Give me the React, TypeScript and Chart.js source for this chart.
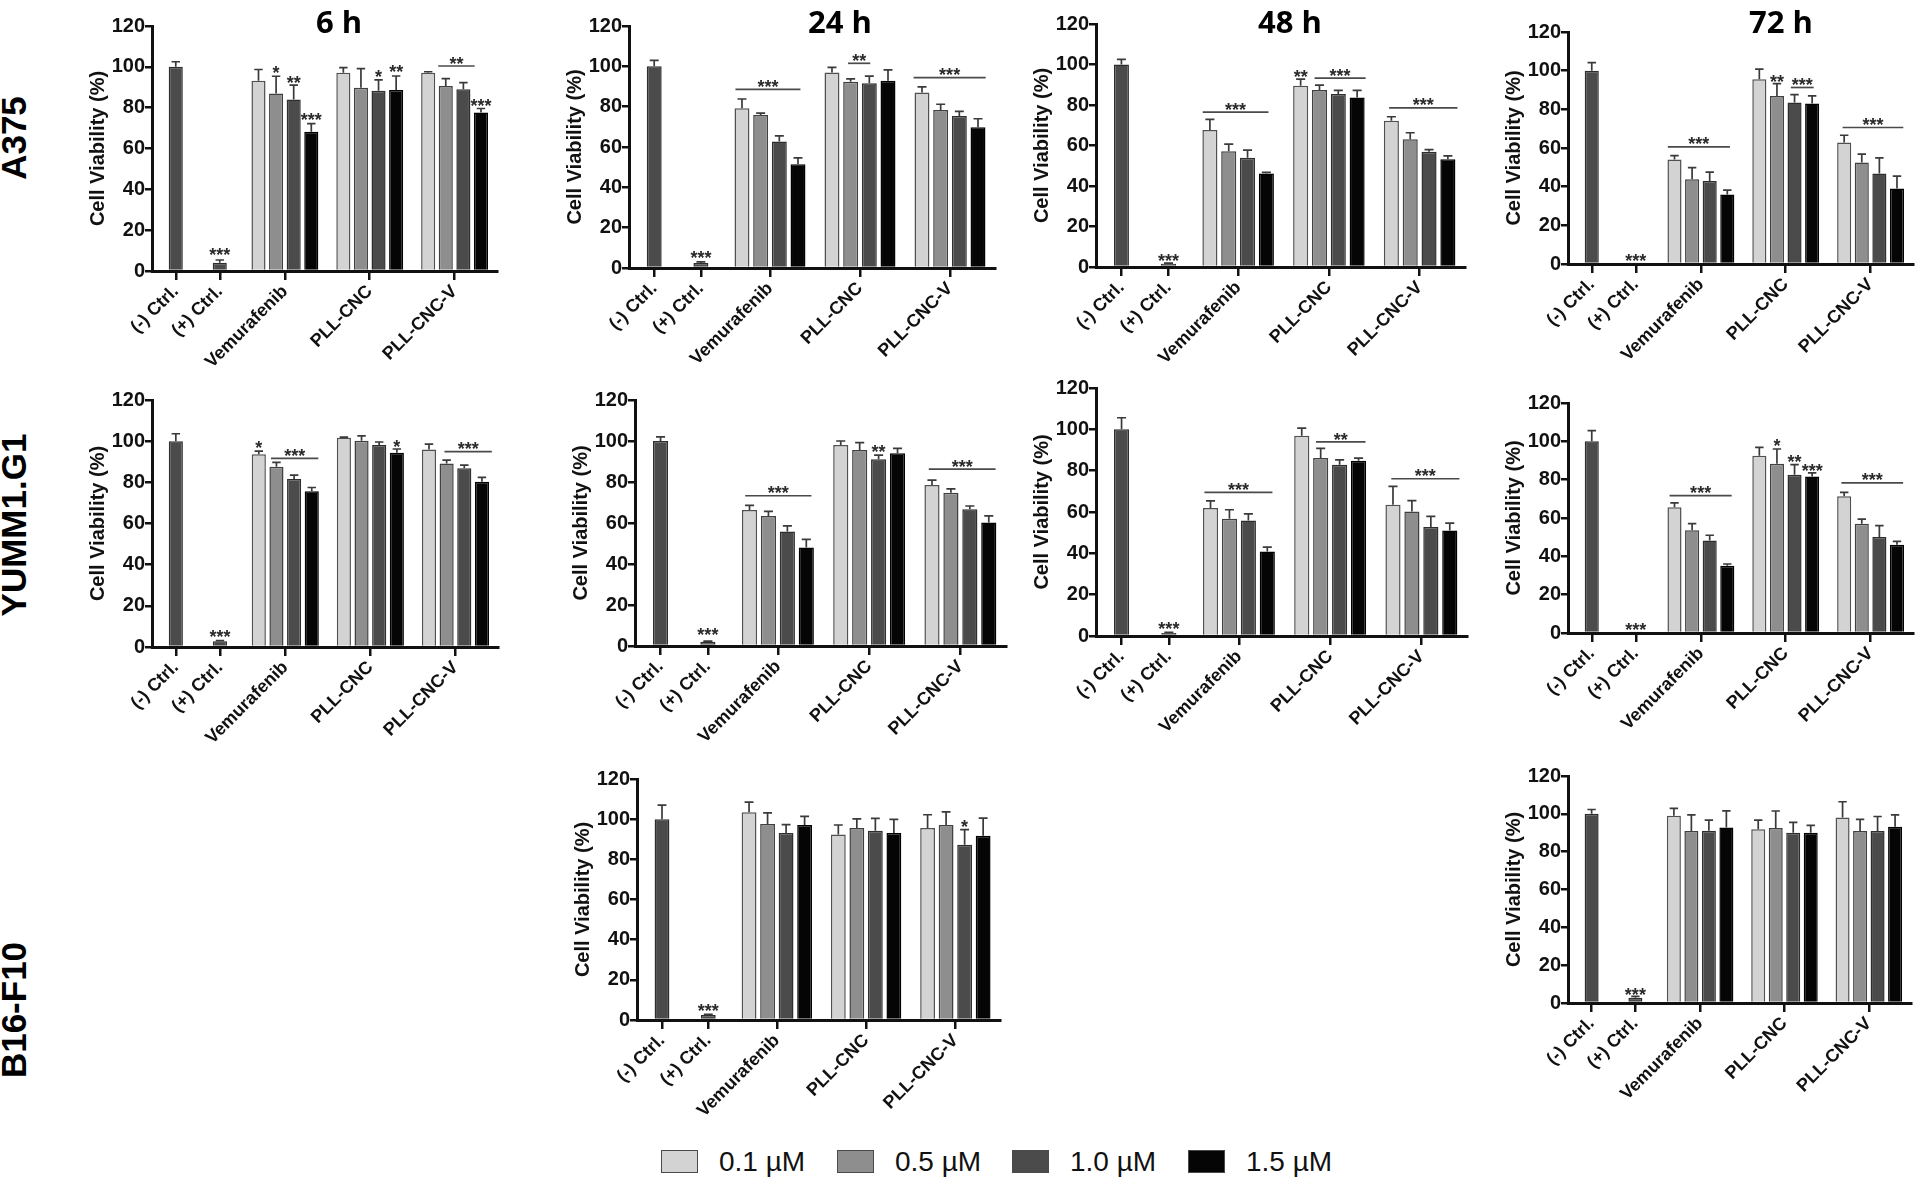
import React, { useEffect, useRef } from "react";
import { Chart, registerables } from "chart.js";

Chart.register(...registerables);
Chart.defaults.font.family = "'Liberation Sans', Arial, Helvetica, sans-serif";
Chart.defaults.color = "#111";

// ---------- shared labels ----------
const categories = ["(-) Ctrl.", "(+) Ctrl.", "Vemurafenib", "PLL-CNC", "PLL-CNC-V"];
// positions of the categories along the (linear) x axis, in bar-slot units
const categoryCenters = [1.35, 3.85, 7.55, 12.37, 17.19];
const xMax = 19.6;
const concentrations = ["0.1 µM", "0.5 µM", "1.0 µM", "1.5 µM"];
const timepoints = ["6 h", "24 h", "48 h", "72 h"];
const cellLines = ["A375", "YUMM1.G1", "B16-F10"];
const yTitle = "Cell Viability (%)";

// bar order: (-)Ctrl, (+)Ctrl, Vemurafenib x4, PLL-CNC x4, PLL-CNC-V x4 (0.1, 0.5, 1.0, 1.5 µM)
type Mark = [number, number, string]; // bar index, value at bottom of stars, text
type Bracket = [number, number, number, string]; // x from, x to, value, text

// ---------- A375 ----------
const a375_6h = [100, 4.1, 93.2, 86.9, 84.0, 68.2, 97.1, 89.8, 88.3, 88.7, 97.1, 90.6, 89.0, 77.6];
const a375_6h_sd = [2.5, 1.3, 5.5, 8.5, 7.0, 4.0, 2.5, 9.3, 5.3, 6.8, 0.5, 3.6, 3.3, 2.0];
const a375_6h_marks: Mark[] = [[1, 8.6, "***"], [3, 97.6, "*"], [4, 92.7, "**"], [5, 74.8, "***"], [8, 96, "*"], [9, 98, "**"], [13, 81.8, "***"]];
const a375_6h_brackets: Bracket[] = [[16.26, 18.33, 100.4, "**"]];

const a375_24h = [100, 2.5, 79.2, 75.9, 62.7, 51.5, 96.9, 92.3, 91.6, 92.9, 87.0, 78.4, 75.4, 69.8];
const a375_24h_sd = [3.0, 0.5, 4.6, 0.9, 2.8, 3.1, 2.6, 1.5, 3.5, 5.3, 2.8, 2.8, 2.3, 4.2];
const a375_24h_marks: Mark[] = [[1, 5.8, "***"]];
const a375_24h_brackets: Bracket[] = [[5.7, 9.18, 88.6, "***"], [11.73, 12.92, 101.5, "**"], [15.24, 19.1, 94.4, "***"]];

const a375_48h = [100, 1.6, 67.6, 57.2, 53.9, 46.2, 89.5, 87.4, 85.4, 83.7, 72.2, 63.1, 56.9, 53.2];
const a375_48h_sd = [2.5, 0.3, 5.3, 3.5, 3.8, 0.5, 3.3, 2.4, 1.8, 3.5, 2.0, 3.2, 1.1, 1.7];
const a375_48h_marks: Mark[] = [[1, 3.8, "***"], [6, 94.8, "**"]];
const a375_48h_brackets: Bracket[] = [[5.67, 9.16, 76.5, "***"], [11.61, 14.32, 93.3, "***"], [15.57, 19.2, 78.6, "***"]];

const a375_72h = [100, 0.3, 54.1, 43.9, 42.9, 36.0, 95.6, 86.9, 83.5, 83.0, 62.8, 52.5, 46.8, 39.1];
const a375_72h_sd = [4.2, 0, 2.0, 6.0, 4.6, 2.2, 5.2, 6.4, 4.1, 4.0, 3.8, 4.3, 8.1, 6.4];
const a375_72h_marks: Mark[] = [[1, 2.4, "***"], [7, 94.7, "**"]];
const a375_72h_brackets: Bracket[] = [[5.67, 9.2, 60.6, "***"], [12.66, 13.96, 91.3, "***"], [15.6, 19.05, 70.6, "***"]];

// ---------- YUMM1.G1 ----------
const yumm_6h = [100, 2.8, 93.6, 87.6, 81.6, 75.7, 101.7, 100.2, 98.1, 94.4, 96.0, 89.2, 86.8, 80.3];
const yumm_6h_sd = [3.6, 0.3, 1.6, 2.1, 1.9, 1.8, 0.3, 2.4, 1.5, 1.8, 2.6, 1.6, 1.6, 2.1];
const yumm_6h_marks: Mark[] = [[1, 5.4, "***"], [2, 97.6, "*"], [9, 98.1, "*"]];
const yumm_6h_brackets: Bracket[] = [[6.74, 9.42, 91.6, "***"], [16.57, 19.25, 94.9, "***"]];

const yumm_24h = [100, 2.1, 66.3, 63.4, 55.8, 48.0, 98.0, 95.6, 91.1, 94.0, 78.5, 74.8, 66.7, 60.2];
const yumm_24h_sd = [2.0, 0.3, 2.3, 2.3, 2.8, 4.0, 2.0, 3.6, 2.0, 2.4, 2.4, 1.8, 1.6, 3.3];
const yumm_24h_marks: Mark[] = [[1, 6.2, "***"], [8, 95.6, "**"]];
const yumm_24h_brackets: Bracket[] = [[5.82, 9.32, 73.3, "***"], [15.52, 19.05, 86.3, "***"]];

const yumm_48h = [100, 1.5, 61.9, 56.7, 55.9, 40.9, 96.9, 86.1, 82.9, 84.8, 63.5, 60.3, 52.7, 51.0];
const yumm_48h_sd = [5.6, 0.3, 3.5, 4.4, 3.2, 2.1, 3.7, 4.7, 2.3, 1.3, 8.9, 5.2, 5.2, 3.6];
const yumm_48h_marks: Mark[] = [[1, 4.2, "***"]];
const yumm_48h_brackets: Bracket[] = [[5.73, 9.32, 69.5, "***"], [11.62, 14.24, 93.9, "**"], [15.6, 19.2, 76.1, "***"]];

const yumm_72h = [100, 0.5, 65.6, 53.6, 48.2, 35.1, 92.5, 88.3, 82.6, 81.7, 71.3, 57.0, 50.1, 46.1];
const yumm_72h_sd = [5.6, 0, 2.3, 3.5, 2.8, 0.9, 4.3, 7.7, 5.2, 1.8, 2.1, 2.4, 5.9, 1.7];
const yumm_72h_marks: Mark[] = [[1, 2.6, "***"], [7, 98.3, "*"], [8, 90.1, "**"], [9, 85.2, "***"]];
const yumm_72h_brackets: Bracket[] = [[5.77, 9.3, 71.7, "***"], [15.53, 19.04, 78.3, "***"]];

// ---------- B16-F10 ----------
const b16_24h = [100, 2.5, 103.5, 97.6, 93.1, 97.1, 92.4, 95.6, 94.2, 93.1, 95.6, 97.1, 87.3, 91.7];
const b16_24h_sd = [7.0, 0.3, 5.0, 5.5, 4.2, 4.3, 4.7, 4.5, 6.2, 6.8, 6.6, 6.5, 7.5, 8.8];
const b16_24h_marks: Mark[] = [[1, 5.5, "***"], [12, 96.7, "*"]];
const b16_24h_brackets: Bracket[] = [];

const b16_72h = [100, 2.8, 99.0, 90.9, 91.1, 92.8, 91.8, 92.5, 90.0, 90.0, 98.1, 90.9, 90.9, 93.2];
const b16_72h_sd = [2.3, 0.7, 3.9, 8.5, 5.6, 8.8, 4.9, 9.0, 5.5, 3.9, 8.3, 6.2, 7.7, 6.3];
const b16_72h_marks: Mark[] = [[1, 5.3, "***"]];
const b16_72h_brackets: Bracket[] = [];

// ---------- styles ----------
const FILL = ["#d3d3d3", "#8e8e8e", "#4b4b4b", "#050505"];
const EDGE = ["#505050", "#404040", "#2e2e2e", "#000000"];
const CTRL_FILL = "#4b4b4b";
const CTRL_EDGE = "#2e2e2e";
const FONT = "'Liberation Sans', Arial, Helvetica, sans-serif";

// layout constants (px)
const PAD_L = 4, YW = 66, PAD_T = 30, XH = 110, PAD_R = 6;

type PanelSpec = {
  means: number[]; sd: number[]; marks: Mark[]; brackets: Bracket[];
  L: number; T: number; B: number; R: number;
};

const panels: PanelSpec[] = [
  { means: a375_6h, sd: a375_6h_sd, marks: a375_6h_marks, brackets: a375_6h_brackets, L: 152, T: 26, B: 271, R: 497 },
  { means: a375_24h, sd: a375_24h_sd, marks: a375_24h_marks, brackets: a375_24h_brackets, L: 629, T: 26, B: 268, R: 995 },
  { means: a375_48h, sd: a375_48h_sd, marks: a375_48h_marks, brackets: a375_48h_brackets, L: 1096, T: 24, B: 267, R: 1465 },
  { means: a375_72h, sd: a375_72h_sd, marks: a375_72h_marks, brackets: a375_72h_brackets, L: 1568, T: 32, B: 264, R: 1913 },
  { means: yumm_6h, sd: yumm_6h_sd, marks: yumm_6h_marks, brackets: yumm_6h_brackets, L: 152, T: 400, B: 647, R: 498 },
  { means: yumm_24h, sd: yumm_24h_sd, marks: yumm_24h_marks, brackets: yumm_24h_brackets, L: 635, T: 400, B: 646, R: 1006 },
  { means: yumm_48h, sd: yumm_48h_sd, marks: yumm_48h_marks, brackets: yumm_48h_brackets, L: 1096, T: 388, B: 636, R: 1467 },
  { means: yumm_72h, sd: yumm_72h_sd, marks: yumm_72h_marks, brackets: yumm_72h_brackets, L: 1568, T: 403, B: 633, R: 1913 },
  { means: b16_24h, sd: b16_24h_sd, marks: b16_24h_marks, brackets: b16_24h_brackets, L: 637, T: 779, B: 1020, R: 1000 },
  { means: b16_72h, sd: b16_72h_sd, marks: b16_72h_marks, brackets: b16_72h_brackets, L: 1568, T: 776, B: 1003, R: 1911 },
];

function barPositions(): number[] {
  const xs = [categoryCenters[0], categoryCenters[1]];
  for (let g = 2; g < 5; g++) for (let k = 0; k < 4; k++) xs.push(categoryCenters[g] + k - 1.5);
  return xs;
}

function Panel({ means, sd, marks, brackets, L, T, B, R }: PanelSpec) {
  const ref = useRef<HTMLCanvasElement>(null);
  const left = L - YW - PAD_L;
  const top = T - PAD_T;
  const width = R - left + PAD_R;
  const height = B - top + XH;

  useEffect(() => {
    const xs = barPositions();
    const common = { borderWidth: 1.5, grouped: false, barPercentage: 0.8, categoryPercentage: 1 };
    const ctrl: any = {
      label: "Control",
      data: [0, 1].map((i) => ({ x: xs[i], y: means[i] })),
      errors: [sd[0], sd[1]],
      backgroundColor: CTRL_FILL,
      borderColor: CTRL_EDGE,
      ...common,
    };
    const conc: any[] = concentrations.map((label, k) => {
      const idx = [2, 3, 4].map((g) => 2 + (g - 2) * 4 + k);
      return {
        label,
        data: idx.map((i) => ({ x: xs[i], y: means[i] })),
        errors: idx.map((i) => sd[i]),
        backgroundColor: FILL[k],
        borderColor: EDGE[k],
        ...common,
      };
    });

    const errPlugin = {
      id: "errbars",
      afterDatasetsDraw(chart: any) {
        const ctx = chart.ctx;
        const y = chart.scales.y;
        chart.data.datasets.forEach((ds: any, di: number) => {
          const meta = chart.getDatasetMeta(di);
          meta.data.forEach((bar: any, i: number) => {
            const err = ds.errors ? ds.errors[i] : 0;
            if (!err || err <= 0) return;
            const v = ds.data[i].y;
            const topPx = y.getPixelForValue(v + err);
            const half = bar.width * 0.3;
            ctx.save();
            ctx.strokeStyle = "#3a3a3a";
            ctx.lineWidth = 1.7;
            ctx.beginPath();
            ctx.moveTo(bar.x, bar.y);
            ctx.lineTo(bar.x, topPx);
            ctx.moveTo(bar.x - half, topPx);
            ctx.lineTo(bar.x + half, topPx);
            ctx.stroke();
            ctx.restore();
          });
        });
      },
    };

    const sigPlugin = {
      id: "sig",
      afterDatasetsDraw(chart: any) {
        const { ctx } = chart;
        const x = chart.scales.x;
        const y = chart.scales.y;
        const fs = 18;
        ctx.save();
        ctx.fillStyle = "#2a2a2a";
        ctx.strokeStyle = "#4a4a4a";
        ctx.lineWidth = 1.7;
        ctx.font = `bold ${fs}px ${FONT}`;
        ctx.textAlign = "center";
        ctx.textBaseline = "alphabetic";
        const stars = (cx: number, bottom: number, t: string) => ctx.fillText(t, cx, bottom + 0.42 * fs);
        marks.forEach(([i, v, t]) => stars(x.getPixelForValue(xs[i]), y.getPixelForValue(v), t));
        brackets.forEach(([x1, x2, v, t]) => {
          const py = y.getPixelForValue(v);
          const p1 = x.getPixelForValue(x1);
          const p2 = x.getPixelForValue(x2);
          ctx.beginPath();
          ctx.moveTo(p1, py);
          ctx.lineTo(p2, py);
          ctx.stroke();
          stars((p1 + p2) / 2, py - 4, t);
        });
        ctx.restore();
      },
    };

    const chart = new Chart(ref.current as HTMLCanvasElement, {
      type: "bar",
      data: { datasets: [ctrl, ...conc] },
      options: {
        animation: false,
        responsive: false,
        devicePixelRatio: 1,
        layout: { padding: { left: PAD_L, top: PAD_T, right: PAD_R, bottom: 0 } },
        plugins: { legend: { display: false }, tooltip: { enabled: false } },
        scales: {
          x: {
            type: "linear",
            min: 0,
            max: xMax,
            offset: false,
            z: 1,
            afterBuildTicks: (s: any) => {
              s.ticks = categoryCenters.map((v) => ({ value: v }));
            },
            afterFit: (s: any) => {
              s.height = XH;
            },
            ticks: {
              autoSkip: false,
              minRotation: 45,
              maxRotation: 45,
              padding: 1,
              color: "#111",
              font: { size: 18, weight: "bold", family: FONT },
              callback: (_v: any, i: number) => categories[i],
            },
            grid: {
              display: true,
              drawOnChartArea: false,
              drawTicks: true,
              tickLength: 9,
              color: "#111",
              lineWidth: 2.5,
              offset: false,
            },
            border: { display: true, color: "#111", width: 3 },
          },
          y: {
            min: 0,
            max: 120,
            z: 1,
            afterFit: (s: any) => {
              s.width = YW;
            },
            ticks: {
              stepSize: 20,
              padding: 0,
              color: "#111",
              font: { size: 20, weight: "bold", family: FONT },
            },
            grid: {
              display: true,
              drawOnChartArea: false,
              drawTicks: true,
              tickLength: 7,
              color: "#111",
              lineWidth: 2.5,
            },
            border: { display: true, color: "#111", width: 3 },
            title: {
              display: true,
              text: yTitle,
              color: "#111",
              padding: 0,
              font: { size: 20, weight: "bold", family: FONT },
            },
          },
        },
      } as any,
      plugins: [errPlugin, sigPlugin],
    });
    return () => chart.destroy();
  }, []);

  return (
    <canvas
      ref={ref}
      width={width}
      height={height}
      style={{ position: "absolute", left, top, width, height }}
    />
  );
}

// figure-level layout
const titleCenters = [339, 840, 1290, 1781];
const rowLabelCenters = [138, 525, 1010];
const legendLeft = 661;
const legendStep = 175.5;

export default function App() {
  return (
    <div
      style={{
        position: "absolute",
        left: 0,
        top: 0,
        width: 1920,
        height: 1184,
        background: "#fff",
        overflow: "hidden",
        fontFamily: FONT,
      }}
    >
      {panels.map((p, i) => (
        <Panel key={i} {...p} />
      ))}

      {timepoints.map((t, i) => (
        <div
          key={t}
          style={{
            position: "absolute",
            left: titleCenters[i],
            top: 21,
            transform: "translate(-50%, -50%)",
            font: "bold 31px 'Open Sans', 'Liberation Sans', sans-serif",
            lineHeight: 1,
            whiteSpace: "nowrap",
            color: "#000",
          }}
        >
          {t}
        </div>
      ))}

      {cellLines.map((c, i) => (
        <div
          key={c}
          style={{
            position: "absolute",
            left: 13,
            top: rowLabelCenters[i],
            transform: "translate(-50%, -50%) rotate(-90deg)",
            font: `bold 35px ${FONT}`,
            lineHeight: 1,
            whiteSpace: "nowrap",
            color: "#000",
          }}
        >
          {c}
        </div>
      ))}

      {concentrations.map((c, k) => (
        <React.Fragment key={c}>
          <div
            style={{
              position: "absolute",
              left: Math.round(legendLeft + k * legendStep),
              top: 1150,
              width: 37,
              height: 23,
              boxSizing: "border-box",
              background: FILL[k],
              border: "1.5px solid #4a4a4a",
            }}
          />
          <div
            style={{
              position: "absolute",
              left: Math.round(legendLeft + k * legendStep + 58),
              top: 1162,
              transform: "translateY(-50%)",
              font: `28px ${FONT}`,
              lineHeight: 1,
              whiteSpace: "nowrap",
              color: "#111",
            }}
          >
            {c}
          </div>
        </React.Fragment>
      ))}
    </div>
  );
}
